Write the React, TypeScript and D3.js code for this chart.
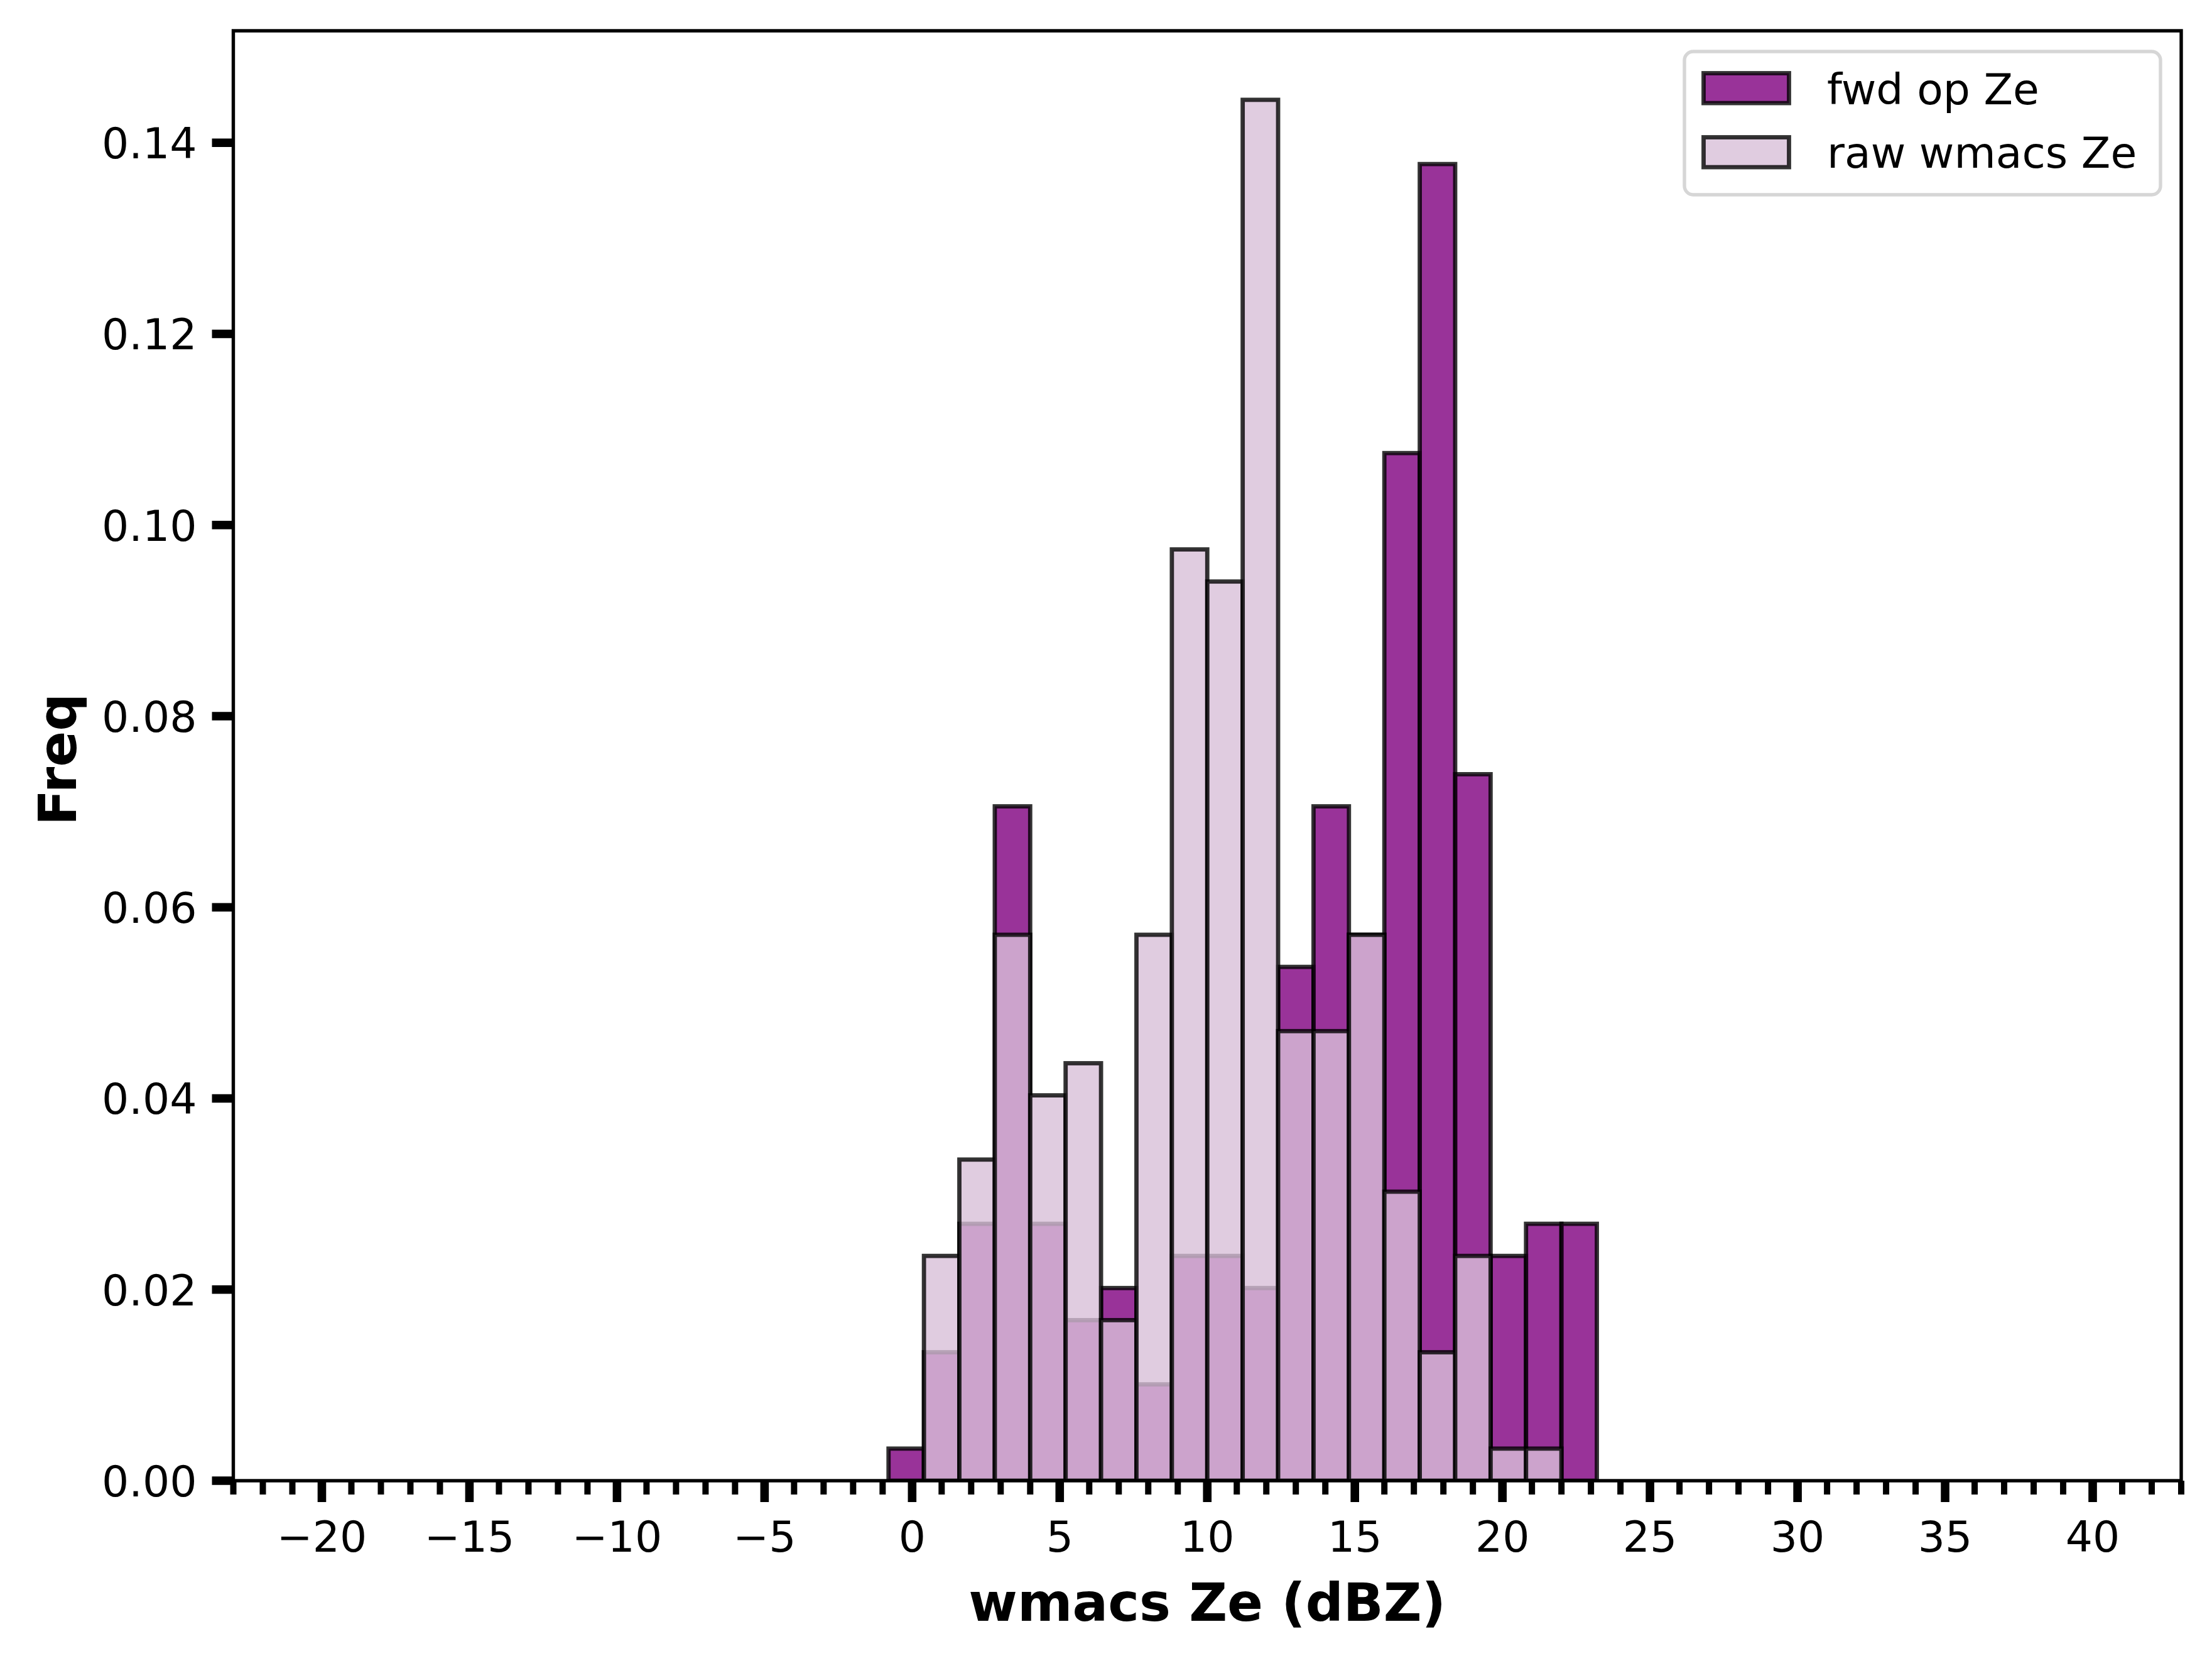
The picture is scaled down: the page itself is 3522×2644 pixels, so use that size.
import React from "react";
import * as d3 from "d3";

// ---- data ----
const binStart = -0.8;
const binWidth = 1.2;
const fwdCounts = [1, 4, 8, 21, 8, 5, 6, 3, 7, 7, 6, 16, 21, 17, 32, 41, 22, 7, 8, 8];
const rawCounts = [0, 7, 10, 17, 12, 13, 5, 17, 29, 28, 43, 14, 14, 17, 9, 4, 7, 1, 1, 0];
const seriesNames = ["fwd op Ze", "raw wmacs Ze"];
const xMajorTicks = [-20, -15, -10, -5, 0, 5, 10, 15, 20, 25, 30, 35, 40];
const yTicks = [0, 0.02, 0.04, 0.06, 0.08, 0.1, 0.12, 0.14];
const xDomain = [-23, 43];
const xLabel = "wmacs Ze (dBZ)";
const yLabel = "Freq";

// ---- layout ----
const W = 3522;
const H = 2644;
const L = 371.5;
const R = 3473;
const T = 49;
const B = 2357;
const FONT = "'DejaVu Sans', sans-serif";
const tickFont = 68;
const labelFont = 84;

const toDensity = (counts: number[]) => {
  const n = d3.sum(counts);
  return counts.map((c, i) => ({
    x0: binStart + i * binWidth,
    x1: binStart + (i + 1) * binWidth,
    v: c / (n * binWidth),
  }));
};

export default function App() {
  const fwd = toDensity(fwdCounts);
  const raw = toDensity(rawCounts);
  const maxV = d3.max([...fwd, ...raw], (d) => d.v) as number;
  const x = d3.scaleLinear().domain(xDomain).range([L, R]);
  const y = d3.scaleLinear().domain([0, maxV * 1.05]).range([B, T]);

  const minorTicks = d3.range(xDomain[0], xDomain[1] + 1).filter((v) => v % 5 !== 0);

  const fmtX = (v: number) => (v < 0 ? "\u2212" + Math.abs(v) : String(v));

  const bars = (data: { x0: number; x1: number; v: number }[], fill: string, key: string) =>
    data.map((d, i) => (
      <rect
        key={key + i}
        x={x(d.x0)}
        y={y(d.v)}
        width={x(d.x1) - x(d.x0)}
        height={y(0) - y(d.v)}
        fill={fill}
        fillOpacity={0.8}
        stroke="#000"
        strokeOpacity={0.8}
        strokeWidth={6.8}
      />
    ));

  const legendItems = [
    { name: seriesNames[0], fill: "purple" },
    { name: seriesNames[1], fill: "thistle" },
  ];

  return (
    <svg
      width={W}
      height={H}
      viewBox={`0 0 ${W} ${H}`}
      style={{ position: "absolute", left: 0, top: 0, display: "block", background: "#fff" }}
      fontFamily={FONT}
    >
      <rect x={0} y={0} width={W} height={H} fill="#fff" />
      <defs>
        <clipPath id="axclip">
          <rect x={L} y={T} width={R - L} height={B - T} />
        </clipPath>
      </defs>
      <g clipPath="url(#axclip)">
        {bars(fwd, "purple", "f")}
        {bars(raw, "thistle", "r")}
      </g>

      {/* spines */}
      <rect x={L} y={T} width={R - L} height={B - T} fill="none" stroke="#000" strokeWidth={5.4} />

      {/* y ticks */}
      {yTicks.map((t) => (
        <g key={"yt" + t}>
          <line x1={L - 34} x2={L} y1={y(t)} y2={y(t)} stroke="#000" strokeWidth={13.6} />
          <text
            x={L - 34 - 24}
            y={y(t) + tickFont * 0.365}
            textAnchor="end"
            fontSize={tickFont}
            fill="#000"
          >
            {t.toFixed(2)}
          </text>
        </g>
      ))}

      {/* x minor ticks */}
      {minorTicks.map((t) => (
        <line key={"xm" + t} x1={x(t)} x2={x(t)} y1={B} y2={B + 22} stroke="#000" strokeWidth={10} />
      ))}
      {/* x major ticks */}
      {xMajorTicks.map((t) => (
        <g key={"xt" + t}>
          <line x1={x(t)} x2={x(t)} y1={B} y2={B + 34} stroke="#000" strokeWidth={13.6} />
          <text x={x(t)} y={2470} textAnchor="middle" fontSize={tickFont} fill="#000">
            {fmtX(t)}
          </text>
        </g>
      ))}

      {/* axis labels */}
      <text x={(L + R) / 2} y={2580} textAnchor="middle" fontSize={labelFont} fontWeight="bold" fill="#000">
        {xLabel}
      </text>
      <text
        transform={`translate(121, ${(T + B) / 2 + 6}) rotate(-90)`}
        textAnchor="middle"
        fontSize={labelFont}
        fontWeight="bold"
        fill="#000"
      >
        {yLabel}
      </text>

      {/* legend */}
      <rect
        x={2682}
        y={82}
        width={758}
        height={228}
        rx={14}
        ry={14}
        fill="#fff"
        fillOpacity={0.8}
        stroke="#cccccc"
        strokeOpacity={0.8}
        strokeWidth={5.4}
      />
      {legendItems.map((it, i) => (
        <g key={"lg" + i}>
          <rect
            x={2712.5}
            y={116.5 + i * 102}
            width={136}
            height={47.6}
            fill={it.fill}
            fillOpacity={0.8}
            stroke="#000"
            strokeOpacity={0.8}
            strokeWidth={6.8}
          />
          <text x={2909} y={166 + i * 101} fontSize={tickFont} fill="#000">
            {it.name}
          </text>
        </g>
      ))}
    </svg>
  );
}
